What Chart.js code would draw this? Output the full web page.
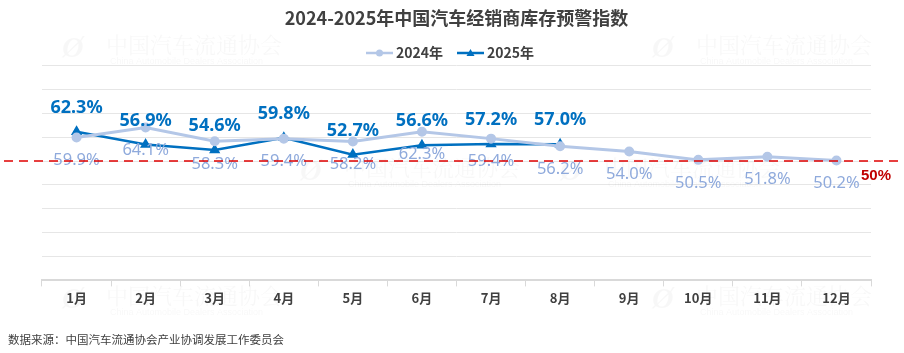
<!DOCTYPE html>
<html>
<head>
<meta charset="utf-8">
<script src="https://cdn.jsdelivr.net/npm/chart.js@4.4.1/dist/chart.umd.min.js"></script>
<style>
  html, body { margin: 0; padding: 0; background: #fff; }
  #wrap { width: 904px; height: 353px; position: relative; }
</style>
</head>
<body>
<div id="wrap"><canvas id="chart" width="904" height="353"></canvas></div>
<script>
const months = ['1月', '2月', '3月', '4月', '5月', '6月', '7月', '8月', '9月', '10月', '11月', '12月'];
const values2024 = [59.9, 64.1, 58.3, 59.4, 58.2, 62.3, 59.4, 56.2, 54.0, 50.5, 51.8, 50.2];
const values2025 = [62.3, 56.9, 54.6, 59.8, 52.7, 56.6, 57.2, 57.0];
const warnLine = 50;

const light = '#b4c7e7';
const lightText = '#8faadc';
const dark = '#0070c0';
const cjk = '"Noto Sans CJK SC", "Noto Sans", sans-serif';

// watermarks, dashed 50% line, labels, custom legend, footer
const extras = {
  id: 'extras',
  beforeDatasetsDraw(chart) {
    const ctx = chart.ctx;
    ctx.save();
    const marks = [[62, 45], [652, 45], [300, 168], [560, 168], [62, 296], [652, 296]];
    marks.forEach(([x, y]) => {
      ctx.fillStyle = 'rgba(0,0,0,0.03)';
      ctx.font = 'italic bold 30px serif';
      ctx.textBaseline = 'middle';
      ctx.fillText('Ø', x, y + 4);
      ctx.font = '22px "Noto Serif CJK SC", serif';
      ctx.fillText('中国汽车流通协会', x + 44, y);
      ctx.font = '9px "Liberation Sans", sans-serif';
      ctx.fillText('China Automobile Dealers Association', x + 48, y + 17);
    });
    ctx.restore();
  },
  afterDatasetsDraw(chart) {
    const ctx = chart.ctx;
    const y = chart.scales.y;
    ctx.save();
    ctx.textAlign = 'center';
    ctx.textBaseline = 'middle';

    const m24 = chart.getDatasetMeta(0);
    ctx.font = '16.5px "Noto Sans", sans-serif';
    ctx.fillStyle = lightText;
    m24.data.forEach((pt, i) => {
      ctx.fillText(values2024[i].toFixed(1) + '%', pt.x, pt.y + 23);
    });

    const m25 = chart.getDatasetMeta(1);
    ctx.font = 'bold 18px "Noto Sans", sans-serif';
    ctx.fillStyle = dark;
    m25.data.forEach((pt, i) => {
      ctx.fillText(values2025[i].toFixed(1) + '%', pt.x, pt.y - 24);
    });

    const py = y.getPixelForValue(warnLine);
    ctx.strokeStyle = '#e00000';
    ctx.lineWidth = 1.5;
    ctx.setLineDash([9, 6]);
    ctx.beginPath();
    ctx.moveTo(4, py);
    ctx.lineTo(898, py);
    ctx.stroke();
    ctx.setLineDash([]);
    ctx.font = 'bold 15px "Liberation Sans Narrow", "Liberation Sans", sans-serif';
    ctx.fillStyle = '#c00000';
    ctx.fillText(warnLine + '%', 876, py + 15);

    // legend
    const items = [['2024年', light, 'circle', 366], ['2025年', dark, 'triangle', 457]];
    ctx.font = 'bold 14px ' + cjk;
    ctx.textAlign = 'left';
    items.forEach(([txt, col, shape, x0]) => {
      const ly = 53;
      ctx.strokeStyle = col;
      ctx.fillStyle = col;
      ctx.lineWidth = 2.5;
      ctx.beginPath();
      ctx.moveTo(x0, ly);
      ctx.lineTo(x0 + 27, ly);
      ctx.stroke();
      ctx.beginPath();
      if (shape === 'circle') {
        ctx.arc(x0 + 13.5, ly, 3.5, 0, Math.PI * 2);
      } else {
        ctx.moveTo(x0 + 13.5, ly - 4);
        ctx.lineTo(x0 + 17.5, ly + 3);
        ctx.lineTo(x0 + 9.5, ly + 3);
        ctx.closePath();
      }
      ctx.fill();
      ctx.fillStyle = '#404040';
      ctx.fillText(txt, x0 + 30, ly);
    });

    ctx.font = '11.5px ' + cjk;
    ctx.fillStyle = '#404040';
    ctx.fillText('数据来源：中国汽车流通协会产业协调发展工作委员会', 8, 340);
    ctx.restore();
  }
};

new Chart(document.getElementById('chart'), {
  type: 'line',
  data: {
    labels: months,
    datasets: [
      {
        label: '2024年',
        data: values2024,
        borderColor: light,
        backgroundColor: light,
        borderWidth: 3,
        pointStyle: 'circle',
        pointRadius: 3.5,
        tension: 0
      },
      {
        label: '2025年',
        data: values2025,
        borderColor: dark,
        backgroundColor: dark,
        borderWidth: 2.5,
        pointStyle: 'triangle',
        pointRadius: 4,
        tension: 0
      }
    ]
  },
  options: {
    responsive: false,
    animation: false,
    layout: { padding: { left: 42, right: 33, top: 0, bottom: 43 } },
    plugins: {
      legend: { display: false },
      tooltip: { enabled: false },
      title: {
        display: true,
        text: '2024-2025年中国汽车经销商库存预警指数',
        color: '#404040',
        font: { family: cjk, size: 18, weight: 'bold' },
        padding: { top: 7, bottom: 37 }
      }
    },
    scales: {
      x: {
        offset: true,
        grid: { offset: true, drawOnChartArea: false, drawTicks: true, tickLength: 6, color: '#d9d9d9' },
        border: { color: '#d9d9d9', width: 2 },
        ticks: { color: '#404040', font: { family: cjk, size: 13, weight: 'bold' }, padding: 4 }
      },
      y: {
        min: 0,
        max: 90,
        ticks: { display: false, stepSize: 10 },
        grid: { color: '#e6e6e6', lineWidth: 1, drawTicks: false },
        border: { display: false }
      }
    }
  },
  plugins: [extras]
});
</script>
</body>
</html>
